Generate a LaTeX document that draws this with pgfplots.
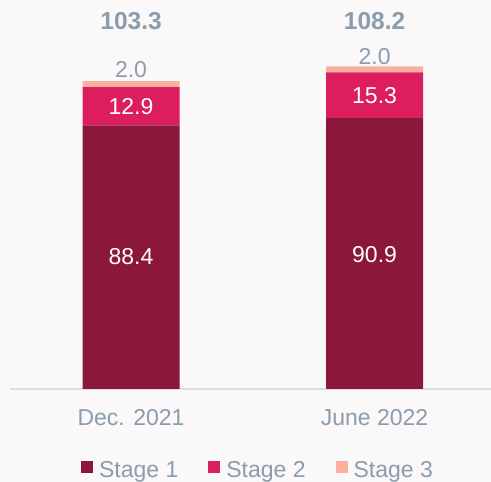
\documentclass[border=0pt]{standalone}
\usepackage{fontspec}
\setmainfont{Liberation Sans}
\usepackage{pgfplots}
\pgfplotsset{compat=1.18}
\definecolor{stOne}{RGB}{139,23,58}
\definecolor{stTwo}{RGB}{220,30,94}
\definecolor{stThree}{RGB}{249,176,158}
\definecolor{txtGray}{RGB}{139,156,172}
\definecolor{lineGray}{RGB}{218,224,230}
\definecolor{bgCol}{RGB}{250,248,248}
\newcommand\bigfont{\fontsize{23}{27}\selectfont}
\pgfplotsset{commonax/.style={scale only axis, width=481pt, height=389pt,
  xmin=-0.497, xmax=1.478, ymin=0, ymax=130.5}}
\begin{document}
\begin{tikzpicture}
\fill[bgCol] (-10pt,-93pt) rectangle (481pt,389pt);
\useasboundingbox (-10pt,-93pt) rectangle (481pt,389pt);
\begin{axis}[commonax, ybar stacked, bar width=97pt,
  axis x line*=bottom, hide y axis,
  x axis line style={-, draw=lineGray, line width=1.2pt},
  xtick={0,1}, xticklabels={Dec. 2021, June 2022}, major tick length=0pt,
  xticklabel style={font=\bigfont, text=txtGray, yshift=-17pt},
  legend style={at={(0.5156,-0.2082)}, anchor=center, legend columns=3,
    draw=none, fill=none, font=\bigfont, text=txtGray,
    /tikz/every odd column/.append style={column sep=4pt},
    /tikz/every even column/.append style={column sep=28pt}},
  legend image code/.code={\fill[#1] (0pt,-3pt) rectangle (12pt,9pt);},
]
\addplot[fill=stOne, draw=none] coordinates {(0,88.4) (1,90.9)};
\addplot[fill=stTwo, draw=none] coordinates {(0,12.9) (1,15.3)};
\addplot[fill=stThree, draw=none] coordinates {(0,2.0) (1,2.0)};
\legend{Stage 1, Stage 2, Stage 3}
\end{axis}
\begin{axis}[commonax, hide axis, clip=false, nodes near coords,
  point meta=explicit symbolic]
\addplot[only marks, mark=none, every node near coord/.style={anchor=center,
  text=white, font=\bigfont}]
  coordinates {(0,44.5)[88.4] (1,45.0)[90.9] (0,94.6)[12.9] (1,98.6)[15.3]};
\addplot[only marks, mark=none, every node near coord/.style={anchor=center,
  text=txtGray, font=\bigfont}]
  coordinates {(0,107.0)[2.0] (1,111.4)[2.0]};
\addplot[only marks, mark=none, every node near coord/.style={anchor=center,
  text=txtGray, font=\fontsize{24.5}{28}\selectfont\bfseries}]
  coordinates {(0,123.5)[103.3] (1,123.5)[108.2]};
\end{axis}
\end{tikzpicture}
\end{document}
